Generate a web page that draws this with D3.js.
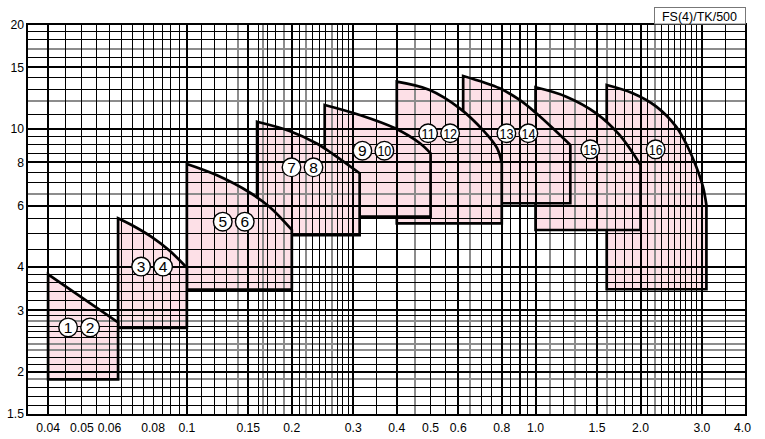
<!DOCTYPE html>
<html><head><meta charset="utf-8">
<script src="https://cdn.jsdelivr.net/npm/d3@7/dist/d3.min.js"></script>
<style>
html,body{margin:0;padding:0;background:#fff;}
svg{display:block;font-family:"Liberation Sans",Arial,sans-serif;}
</style></head>
<body>
<svg id="chart" width="765" height="439"></svg>
<script>
// ---------- data ----------
const chartTitle = "FS(4)/TK/500";
const xDomain = [0.0348, 4.0];
const yDomain = [1.5, 20];
const xTicks = [0.04,0.05,0.06,0.08,0.1,0.15,0.2,0.3,0.4,0.5,0.6,0.8,1.0,1.5,2.0,3.0,4.0];
const xTickLabels = ["0.04","0.05","0.06","0.08","0.1","0.15","0.2","0.3","0.4","0.5","0.6","0.8","1.0","1.5","2.0","3.0","4.0"];
const yTicks = [1.5,2,3,4,6,8,10,15,20];
const yTickLabels = ["1.5","2","3","4","6","8","10","15","20"];

const xGridBold = [0.04,0.1,0.15,0.2,0.3,0.4,0.6,0.8,0.9,1.0,1.5,2.0,3.0];
const xGridThin = [0.045,0.05,0.055,0.06,0.065,0.07,0.075,0.08,0.085,0.09,0.095,0.11,0.12,0.13,0.16,0.17,0.18,0.21,0.23,0.24,0.25,0.27,0.28,0.29,0.35,0.5,0.55,0.7,0.75,0.85,0.95,1.2,1.4,1.7,1.8,1.9,2.1,2.3,2.4,2.5,2.6,2.7,2.8,2.9,3.5];
const xGridGrey = [0.14,0.165,0.19,0.22,0.26,0.45,0.65,1.1,1.3,1.6,2.2];
const yGridBold = [2,3,4,6,8,10,15];
const yGridThin = [1.6,1.7,1.8,2.1,2.2,2.5,2.6,2.7,2.9,3.2,3.4,3.6,3.8,4.5,5,5.5,7,7.5,8.5,9,9.5,11,13,14,16,18,19];
const yGridGrey = [1.9,2.3,2.4,2.8,6.5,12,17];

const regionLabels = [["1","2"],["3","4"],["5","6"],["7","8"],["9","10"],["11","12"],["13","14"],["15"],["16"]];
const regionBottom = [1.90, 2.67, 3.44, 4.94, 5.58, 5.34, 6.10, 5.11, 3.45];
const regionTopX = [
  [0.04, 0.0635],
  [0.0635, 0.0709, 0.0792, 0.0893, 0.1],
  [0.1, 0.1216, 0.1514, 0.1728, 0.2],
  [0.159, 0.197, 0.235, 0.2625, 0.313],
  [0.2485, 0.313, 0.394, 0.465, 0.5],
  [0.4, 0.497, 0.606, 0.706, 0.775, 0.8],
  [0.62, 0.789, 0.9, 1.005, 1.121, 1.258],
  [1.0, 1.225, 1.493, 1.741, 2.0],
  [1.6, 1.90, 2.22, 2.53, 2.73, 2.89, 3.02, 3.09]
];
const regionTopY = [
  [3.81, 2.77],
  [5.52, 5.22, 4.88, 4.45, 3.98],
  [7.91, 7.35, 6.55, 5.95, 5.11],
  [10.47, 9.85, 9.08, 8.45, 7.44],
  [11.7, 10.95, 10.04, 9.09, 8.49],
  [13.65, 12.92, 11.44, 9.91, 8.8, 7.95],
  [14.17, 13.06, 12.09, 11.07, 10.02, 8.97],
  [13.15, 12.36, 11.07, 9.59, 7.86],
  [13.35, 12.64, 11.57, 10.13, 8.87, 7.77, 6.81, 6.03]
];
const labelX = [0.0491, 0.0795, 0.1363, 0.2146, 0.3427, 0.529, 0.887, 1.435, 2.21];
const labelY = [2.68, 4.01, 5.40, 7.74, 8.64, 9.70, 9.70, 8.72, 8.72];

// ---------- chart ----------
const svg = d3.select("#chart");
const L = 27, R = 745.5, T = 24, B = 415;
const x = d3.scaleLog().domain(xDomain).range([L, R]);
const y = d3.scaleLog().domain(yDomain).range([B, T]);

const pink = "#fde0e7";
const topLine = d3.line().x(d => x(d[0])).y(d => y(d[1])).curve(d3.curveCatmullRom.alpha(0.5));

function regionPath(i) {
  const pts = regionTopX[i].map((v, k) => [v, regionTopY[i][k]]);
  const x0 = regionTopX[i][0], x1 = regionTopX[i][regionTopX[i].length - 1];
  const yb = y(regionBottom[i]);
  const top = topLine(pts).replace(/^M/, "L");
  return `M${x(x0)},${yb}${top}L${x(x1)},${yb}Z`;
}

const defs = svg.append("defs");
svg.append("rect").attr("width", 765).attr("height", 439).attr("fill", "#fff");

const n = regionTopX.length;
const fills = svg.append("g");
for (let i = n - 1; i >= 0; i--) {
  fills.append("path").attr("d", regionPath(i)).attr("fill", pink);
}

// grid, snapped to the pixel grid for crisp lines
const grid = svg.append("g").attr("shape-rendering", "crispEdges");
function snap(v, w) { return w % 2 === 1 ? Math.round(v - 0.5) + 0.5 : Math.round(v); }
function vLines(vals, color, w) {
  grid.selectAll(null).data(vals).enter().append("line")
    .attr("x1", d => snap(x(d), w)).attr("x2", d => snap(x(d), w)).attr("y1", T).attr("y2", B)
    .attr("stroke", color).attr("stroke-width", w);
}
function hLines(vals, color, w) {
  grid.selectAll(null).data(vals).enter().append("line")
    .attr("y1", d => snap(y(d), w)).attr("y2", d => snap(y(d), w)).attr("x1", L).attr("x2", R)
    .attr("stroke", color).attr("stroke-width", w);
}
vLines(xGridGrey, "#8c8c8c", 2);
hLines(yGridGrey, "#8c8c8c", 2);
vLines(xGridThin, "#000", 1);
hLines(yGridThin, "#000", 1);
vLines(xGridBold, "#000", 2);
hLines(yGridBold, "#000", 2);
grid.append("rect").attr("x", L).attr("y", T).attr("width", Math.round(R - L)).attr("height", B - T)
  .attr("fill", "none").attr("stroke", "#000").attr("stroke-width", 2);

// outlines (lower-numbered regions lie on top)
const outlines = svg.append("g");
for (let i = n - 1; i >= 0; i--) {
  const m = defs.append("mask").attr("id", "m" + i).attr("maskUnits", "userSpaceOnUse")
    .attr("x", 0).attr("y", 0).attr("width", 765).attr("height", 439);
  m.append("rect").attr("width", 765).attr("height", 439).attr("fill", "#fff");
  for (let j = 0; j < i; j++) m.append("path").attr("d", regionPath(j)).attr("fill", "#000");
  outlines.append("path").attr("d", regionPath(i)).attr("fill", "none")
    .attr("stroke", "#000").attr("stroke-width", 2.7).attr("stroke-linejoin", "miter")
    .attr("mask", "url(#m" + i + ")");
}

// circled labels
const lab = svg.append("g");
regionLabels.forEach((arr, i) => {
  const cx0 = x(labelX[i]), cy = y(labelY[i]);
  arr.forEach((t, k) => {
    const cx = cx0 + (k - (arr.length - 1) / 2) * 22;
    lab.append("circle").attr("cx", cx).attr("cy", cy).attr("r", 9.3)
      .attr("fill", "#fff").attr("stroke", "#000").attr("stroke-width", 1.4);
    const tx = lab.append("text").attr("x", cx).attr("y", cy + 5.4)
      .attr("text-anchor", "middle").attr("font-size", t.length > 1 ? 14 : 15.5)
      .attr("fill", "#000").text(t);
    if (t.length > 1) tx.attr("textLength", 14).attr("lengthAdjust", "spacingAndGlyphs");
  });
});

// axis labels
const ax = svg.append("g").attr("font-size", 12.2).attr("fill", "#000");
ax.selectAll(null).data(xTicks).enter().append("text")
  .attr("x", d => x(d)).attr("y", 432).attr("text-anchor", "middle")
  .attr("dx", (d, i) => i === xTicks.length - 1 ? -3 : 0)
  .text((d, i) => xTickLabels[i]);
ax.selectAll(null).data(yTicks).enter().append("text")
  .attr("x", 24).attr("y", d => y(d) + 4.5).attr("text-anchor", "end")
  .attr("dy", (d, i) => i === 0 ? -2 : 0)
  .text((d, i) => yTickLabels[i]);

// title box
const tb = svg.append("g");
tb.append("rect").attr("x", Math.round(R) - 91.5).attr("y", 7.5).attr("width", 91).attr("height", T - 7.5)
  .attr("fill", "#fff").attr("stroke", "#777").attr("stroke-width", 1);
tb.append("text").attr("x", R - 46).attr("y", 20.5).attr("text-anchor", "middle")
  .attr("font-size", 12.5).attr("fill", "#000").text(chartTitle);
</script>
</body></html>
